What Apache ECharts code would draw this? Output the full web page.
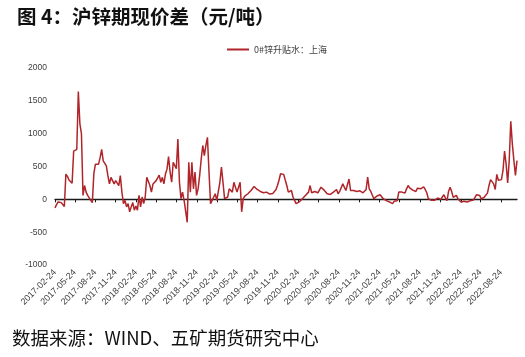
<!DOCTYPE html>
<html><head><meta charset="utf-8">
<script src="https://cdn.jsdelivr.net/npm/echarts@6/dist/echarts.min.js"></script>
<style>html,body{margin:0;padding:0;background:#fff}#c{width:525px;height:357px}</style>
</head><body><div id="c"></div>
<script>
const titleText = '图 4：沪锌期现价差（元/吨）';
const sourceText = '数据来源：WIND、五矿期货研究中心';
const seriesName = '0#锌升贴水：上海';
const startDate = '2017-02-24';   // first weekly observation
const stepDays = 7;               // weekly observations
const tickLabels = ['2017-02-24','2017-05-24','2017-08-24','2017-11-24','2018-02-24','2018-05-24','2018-08-24','2018-11-24','2019-02-24','2019-05-24','2019-08-24','2019-11-24','2020-02-24','2020-05-24','2020-08-24','2020-11-24','2021-02-24','2021-05-24','2021-08-24','2021-11-24','2022-02-24','2022-05-24','2022-08-24'];
const yTicks = [-1000, -500, 0, 500, 1000, 1500, 2000];

const v2017 = [-130,-80,-40,-65,-50,-70,-110,385,350,295,270,245,735,710,760,1640,1150,1000,60,210,110,60,35,-15,-50,400,535,510,535,635,760,585,610,510,360,235,335,285,235,285,310,210,360,110,-65];
const v2018 = [-15,-115,-65,-190,-115,-50,-165,-100,-165,60,-115,35,-65,35,335,310,210,110,235,260,285,310,370,260,335,235,385,460,650,415,260,565,565,465,920,260,10,110,-15,-40,-350,565,110,565,160,415,60,160,365,615,820,665];
const v2019 = [820,945,415,-65,-15,35,85,-15,-15,260,490,260,10,0,35,160,135,110,260,260,110,185,260,-190,10,50,35,85,85,135,130,195,185,150,135,120,120,100,110,110,95,80,60,90,120,145,210,290,390,390,380,400];
const v2020 = [210,110,110,135,35,-15,-65,-40,-40,-15,10,35,60,85,110,210,100,110,120,130,100,100,185,185,140,110,85,100,75,85,110,100,150,85,120,150,235,210,135,130,310,135,150,135,120,120,120,130,110,100,100,150];
const v2021 = [340,160,120,100,10,-5,50,75,70,60,10,10,-20,-15,-40,-30,-65,-30,0,-20,110,85,110,120,95,160,210,175,165,140,110,120,170,200,160,190,190,150,100,10,20,-15,-30,-15,10,20,10,0,35,70,20,-20,120];
const v2022 = [185,120,30,35,60,10,-10,-40,-65,-30,-40,-40,-50,-20,-50,-10,30,70,70,60,5,-25,35,60,95,210,300,270,235,150,380,290,260,300,440,735,540,250,590,1190,845,590,365,590];

function parseDay(s){const p=s.split('-').map(Number);return new Date(p[0],p[1]-1,p[2]).getTime();}
const values = [].concat(v2017,v2018,v2019,v2020,v2021,v2022);
const dates = values.map((_,i)=>{const d=new Date(parseDay(startDate));d.setDate(d.getDate()+i*stepDays);return d.getTime();});
const data = values.map((v,i)=>[dates[i],v]);
const tickTimes = tickLabels.map(parseDay);
function fmt(t){const d=new Date(t);const p=n=>(n<10?'0':'')+n;return d.getFullYear()+'-'+p(d.getMonth()+1)+'-'+p(d.getDate());}

const chart = echarts.init(document.getElementById('c'), null, {renderer:'canvas'});
chart.setOption({
  animation:false,
  backgroundColor:'#fff',
  title:{text:titleText,left:12,top:2,textStyle:{fontSize:19.5,fontWeight:'bold',color:'#111',fontFamily:'Noto Sans CJK SC'}},
  legend:{data:[seriesName],left:227,top:45,padding:0,icon:'rect',itemWidth:22,itemHeight:2,
    textStyle:{fontSize:9,color:'#404040',fontFamily:'Noto Sans CJK SC'}},
  grid:{left:55,right:8,top:68,bottom:92,containLabel:false},
  xAxis:[{type:'value',min:dates[0],max:dates[dates.length-1],scale:true,
      axisLine:{show:false,onZero:false},axisTick:{show:false},splitLine:{show:false},
      axisLabel:{customValues:tickTimes,formatter:v=>fmt(v),rotate:45,margin:6,fontSize:9,color:'#404040',fontFamily:'Liberation Sans',hideOverlap:false,showMinLabel:true,showMaxLabel:true}},
    {type:'value',min:dates[0],max:dates[dates.length-1],scale:true,position:'bottom',
      axisLine:{show:true,onZero:true,lineStyle:{color:'#1a1a1a',width:1.3}},
      axisTick:{show:true,customValues:tickTimes,length:3,lineStyle:{color:'#1a1a1a',width:1}},
      axisLabel:{show:false},splitLine:{show:false}}],
  yAxis:{type:'value',min:yTicks[0],max:yTicks[yTicks.length-1],interval:500,
    axisLine:{show:false},axisTick:{show:false},splitLine:{show:false},
    axisLabel:{formatter:v=>String(v),fontSize:8.5,color:'#404040',margin:8,fontFamily:'Liberation Sans'}},
  series:[{name:seriesName,type:'line',xAxisIndex:0,data:data,showSymbol:false,symbol:'none',
    lineStyle:{color:'#B0252A',width:1.5},itemStyle:{color:'#B0252A'}}],
  graphic:[{type:'text',left:12,top:329,style:{text:sourceText,fontSize:18.5,fill:'#111',fontFamily:'Noto Sans CJK SC'}}]
});
</script></body></html>
